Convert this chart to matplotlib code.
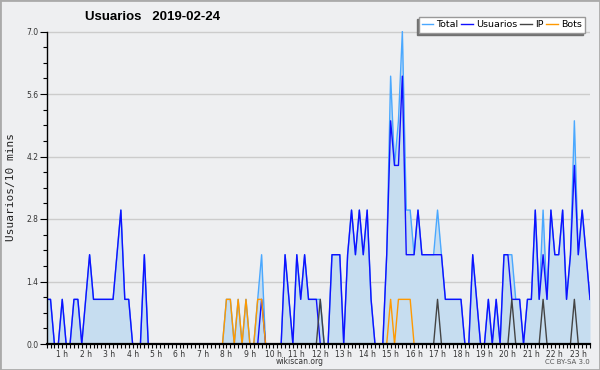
import numpy as np
import matplotlib.pyplot as plt
from matplotlib.patches import Rectangle
from matplotlib.ticker import MultipleLocator, FormatStrFormatter

title = "Usuarios   2019-02-24"
ylabel = "Usuarios/10 mins"

# one value every 10 minutes
users = [1, 1, 0, 0, 1, 0, 0, 1, 1, 0,
         1, 2, 1, 1, 1, 1, 1, 1, 2, 3,
         1, 1, 0, 0, 0, 2, 0, 0, 0, 0,
         0, 0, 0, 0, 0, 0, 0, 0, 0, 0,
         0, 0, 0, 0, 0, 0, 0, 0, 0, 0,
         0, 0, 0, 0, 0, 1, 0, 0, 0, 0,
         0, 2, 1, 0, 2, 1, 2, 1, 1, 1,
         0, 0, 0, 2, 2, 2, 0, 2, 3, 2,
         3, 2, 3, 1, 0, 0, 0, 2, 5, 4,
         4, 6, 2, 2, 2, 3, 2, 2, 2, 2,
         2, 2, 1, 1, 1, 1, 1, 0, 0, 2,
         1, 0, 0, 1, 0, 1, 0, 2, 2, 1,
         1, 1, 0, 1, 1, 3, 1, 2, 1, 3,
         2, 2, 3, 1, 2, 4, 2, 3, 2, 1]

total = [1, 1, 0, 0, 1, 0, 0, 1, 1, 0,
         1, 2, 1, 1, 1, 1, 1, 1, 2, 3,
         1, 1, 0, 0, 0, 2, 0, 0, 0, 0,
         0, 0, 0, 0, 0, 0, 0, 0, 0, 0,
         0, 0, 0, 0, 0, 0, 1, 1, 0, 1,
         0, 1, 0, 0, 1, 2, 0, 0, 0, 0,
         0, 2, 1, 0, 2, 1, 2, 1, 1, 1,
         1, 0, 0, 2, 2, 2, 0, 2, 3, 2,
         3, 2, 3, 1, 0, 0, 0, 2, 6, 4,
         5, 7, 3, 3, 2, 3, 2, 2, 2, 2,
         3, 2, 1, 1, 1, 1, 1, 0, 0, 2,
         1, 0, 0, 1, 0, 1, 0, 2, 2, 2,
         1, 1, 0, 1, 1, 3, 1, 3, 1, 3,
         2, 2, 3, 1, 2, 5, 2, 3, 2, 1]

ip = [0, 0, 0, 0, 0, 0, 0, 0, 0, 0,
      0, 0, 0, 0, 0, 0, 0, 0, 0, 0,
      0, 0, 0, 0, 0, 0, 0, 0, 0, 0,
      0, 0, 0, 0, 0, 0, 0, 0, 0, 0,
      0, 0, 0, 0, 0, 0, 0, 0, 0, 0,
      0, 0, 0, 0, 0, 0, 0, 0, 0, 0,
      0, 0, 0, 0, 0, 0, 0, 0, 0, 0,
      1, 0, 0, 0, 0, 0, 0, 0, 0, 0,
      0, 0, 0, 0, 0, 0, 0, 0, 0, 0,
      0, 0, 0, 0, 0, 0, 0, 0, 0, 0,
      1, 0, 0, 0, 0, 0, 0, 0, 0, 0,
      0, 0, 0, 0, 0, 0, 0, 0, 0, 1,
      0, 0, 0, 0, 0, 0, 0, 1, 0, 0,
      0, 0, 0, 0, 0, 1, 0, 0, 0, 0]

bots = [0, 0, 0, 0, 0, 0, 0, 0, 0, 0,
        0, 0, 0, 0, 0, 0, 0, 0, 0, 0,
        0, 0, 0, 0, 0, 0, 0, 0, 0, 0,
        0, 0, 0, 0, 0, 0, 0, 0, 0, 0,
        0, 0, 0, 0, 0, 0, 1, 1, 0, 1,
        0, 1, 0, 0, 1, 1, 0, 0, 0, 0,
        0, 0, 0, 0, 0, 0, 0, 0, 0, 0,
        0, 0, 0, 0, 0, 0, 0, 0, 0, 0,
        0, 0, 0, 0, 0, 0, 0, 0, 1, 0,
        1, 1, 1, 1, 0, 0, 0, 0, 0, 0,
        0, 0, 0, 0, 0, 0, 0, 0, 0, 0,
        0, 0, 0, 0, 0, 0, 0, 0, 0, 0,
        0, 0, 0, 0, 0, 0, 0, 0, 0, 0,
        0, 0, 0, 0, 0, 0, 0, 0, 0, 0]

hours = list(range(1, 24))
hour_labels = ["%d h" % h for h in hours]

bg = '#eeeff1'
x = np.arange(len(users))

fig = plt.figure(figsize=(6, 3.7), dpi=100, facecolor=bg)
ax = fig.add_axes([46.6 / 600, 26 / 370, 543.4 / 600, 312.5 / 370])
ax.set_facecolor(bg)

ax.fill_between(x, 0, total, color='#c6ddf0', lw=0)
l_total, = ax.plot(x, total, color='#4aa8ff', lw=1.0)
l_users, = ax.plot(x, users, color='#1010ff', lw=1.0)
l_ip, = ax.plot(x, ip, color='#444444', lw=1.0)
l_bots, = ax.plot(x, bots, color='#ff9900', lw=1.0)

ax.set_xlim(0, len(users) - 1)
ax.set_ylim(0, 7)

ax.yaxis.set_major_locator(MultipleLocator(1.4))
ax.yaxis.set_minor_locator(MultipleLocator(0.35))
ax.yaxis.set_major_formatter(FormatStrFormatter('%.1f'))
ax.set_xticks([6 * h - 2 for h in hours])
ax.set_xticklabels(hour_labels)
ax.set_xticks(x, minor=True)

ax.tick_params(axis='both', which='both', direction='out', colors='black',
               labelcolor='#333333', labelsize=5.5, width=0.8)
ax.tick_params(axis='y', which='major', length=5, pad=1)
ax.tick_params(axis='y', which='minor', length=3)
ax.tick_params(axis='x', which='both', length=3, pad=1)

ax.yaxis.grid(True, color='#cccccc', lw=1.0)
ax.set_axisbelow(True)
for s in ['top', 'right']:
    ax.spines[s].set_visible(False)
ax.spines['left'].set_linewidth(1.0)
ax.spines['bottom'].set_linewidth(1.6)

leg = fig.legend([l_total, l_users, l_ip, l_bots], ['Total', 'Usuarios', 'IP', 'Bots'],
                 loc='upper right', bbox_to_anchor=(585 / 600, 1 - 17 / 370),
                 ncol=4, fontsize=6.8, frameon=True, fancybox=False,
                 edgecolor='#999999', facecolor='white', framealpha=1,
                 borderpad=0.35, handlelength=1.2, handletextpad=0.35,
                 columnspacing=0.3, borderaxespad=0,
                 shadow={'ox': -1.5, 'oy': -1.5, 'color': '#707070', 'alpha': 1})

fig.text(85 / 600, 1 - 17 / 370, title, fontsize=9.5, fontweight='bold',
         family='Liberation Sans', va='center', ha='left')
fig.text(11 / 600, 1 - 187 / 370, ylabel, rotation=90, fontsize=8,
         family='DejaVu Sans Mono', va='center', ha='center', color='#222222')
fig.text(0.5, 1 - 362 / 370, 'wikiscan.org', fontsize=5.5, ha='center',
         va='center', color='#333333')
fig.text(590 / 600, 1 - 362 / 370, 'CC BY-SA 3.0', fontsize=5, ha='right',
         va='center', color='#555555')

fig.patches.append(Rectangle((0, 0), 1, 1, transform=fig.transFigure,
                             fill=False, edgecolor='#aaaaaa', lw=2))

fig.savefig('out.png', dpi=100, facecolor=bg)
